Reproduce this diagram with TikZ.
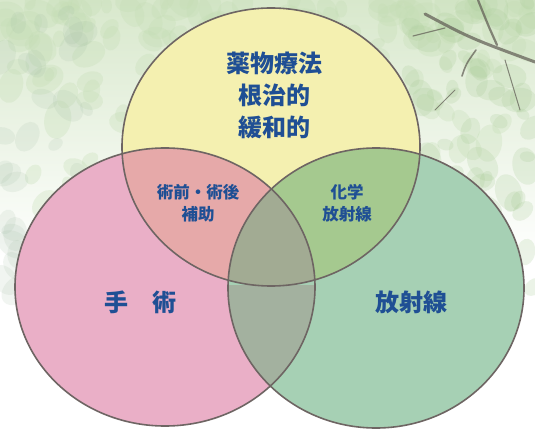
\documentclass[tikz,border=0pt]{standalone}
\usepackage{fontspec}
\newfontfamily\jp{Noto Sans CJK JP}
\definecolor{cyel}{HTML}{F4F0B0}
\definecolor{cpink}{HTML}{EAAFC7}
\definecolor{cgreen}{HTML}{A6D0B4}
\definecolor{cpy}{HTML}{E6A9A9}
\definecolor{cyg}{HTML}{A5C98F}
\definecolor{cpg}{HTML}{A3B19F}
\definecolor{call}{HTML}{A2AB93}
\definecolor{edge}{HTML}{6E6563}
\definecolor{txt}{HTML}{1F4F94}
\definecolor{bgtop}{HTML}{D8E8CC}
\definecolor{leafA}{HTML}{A8CB96}
\definecolor{leafB}{HTML}{C4DDB4}
\definecolor{leafC}{HTML}{9DB9A0}
\definecolor{bark}{HTML}{5E5A52}
\tikzset{
  bigtxt/.style={text=txt, font=\jp\bfseries\fontsize{24}{32}\selectfont, align=center, inner sep=0pt},
  smalltxt/.style={text=txt, font=\jp\bfseries\fontsize{16.5}{22}\selectfont, align=center, inner sep=0pt},
  rim/.style={draw=edge, line width=1.6pt},
  branch/.style={draw=bark, opacity=0.7, line cap=round}
}
\begin{document}
\begin{tikzpicture}[x=1pt,y=-1pt]
\useasboundingbox (0,0) rectangle (535,430);
\fill[white] (0,0) rectangle (535,430);
\shade[top color=bgtop, bottom color=white] (0,0) rectangle (535,260);
% leafy background
\pgfmathsetseed{7}
\foreach \i in {1,...,160}{
  \pgfmathsetmacro{\lx}{rnd*535}
  \pgfmathsetmacro{\ly}{rnd*rnd*240}
  \pgfmathsetmacro{\lr}{7+rnd*13}
  \pgfmathsetmacro{\la}{rnd*180}
  \fill[leafB, opacity=0.3, rotate around={\la:(\lx,\ly)}] (\lx,\ly) ellipse [x radius=\lr, y radius=0.7*\lr];
}
\foreach \i in {1,...,70}{
  \pgfmathsetmacro{\lx}{400+rnd*135}
  \pgfmathsetmacro{\ly}{rnd*300}
  \pgfmathsetmacro{\lr}{7+rnd*12}
  \pgfmathsetmacro{\la}{rnd*180}
  \fill[leafA, opacity=0.22, rotate around={\la:(\lx,\ly)}] (\lx,\ly) ellipse [x radius=\lr, y radius=0.7*\lr];
}
\foreach \i in {1,...,40}{
  \pgfmathsetmacro{\lx}{rnd*110}
  \pgfmathsetmacro{\ly}{rnd*300}
  \pgfmathsetmacro{\lr}{7+rnd*12}
  \pgfmathsetmacro{\la}{rnd*180}
  \fill[leafC, opacity=0.14, rotate around={\la:(\lx,\ly)}] (\lx,\ly) ellipse [x radius=\lr, y radius=0.7*\lr];
}
\draw[branch, line width=3pt] (425,14) .. controls (470,38) .. (535,62);
\draw[branch, line width=2.2pt] (478,0) .. controls (488,25) .. (497,45);
\draw[branch, line width=1.6pt] (476,50) .. controls (466,64) .. (462,76);
\draw[branch, line width=1.2pt] (445,28) -- (413,36);
\draw[branch, line width=1pt] (505,60) -- (520,110);
\draw[branch, line width=1pt] (455,90) -- (435,110);
% circle fills
\coordinate (cy) at (271,147);
\coordinate (cp) at (165,287);
\coordinate (cg) at (376,288);
\fill[cyel] (cy) ellipse [x radius=149, y radius=139];
\fill[cpink] (cp) ellipse [x radius=150, y radius=139];
\fill[cgreen] (cg) ellipse [x radius=148, y radius=140];
\begin{scope}
  \clip (cy) ellipse [x radius=149, y radius=139];
  \fill[cpy] (cp) ellipse [x radius=150, y radius=139];
  \fill[cyg] (cg) ellipse [x radius=148, y radius=140];
  \clip (cp) ellipse [x radius=150, y radius=139];
  \fill[call] (cg) ellipse [x radius=148, y radius=140];
\end{scope}
\begin{scope}
  \clip (cp) ellipse [x radius=150, y radius=139];
  \clip (cg) ellipse [x radius=148, y radius=140];
  \fill[cpg] (0,285) rectangle (535,430);
  \fill[cpg] (cy) ellipse [x radius=149, y radius=139];
  \fill[call] (cy) ellipse [x radius=149, y radius=139];
\end{scope}
% outlines
\draw[rim] (cy) ellipse [x radius=149, y radius=139];
\draw[rim] (cp) ellipse [x radius=150, y radius=139];
\draw[rim] (cg) ellipse [x radius=148, y radius=140];
% labels
\node[bigtxt] (drug) at (274,95) {薬物療法\\根治的\\緩和的};
\node[bigtxt] (surg) at (140,302) {手\hspace{1em}術};
\node[bigtxt] (rad) at (411,302) {放射線};
\node[smalltxt] (adj) at (198,203) {術前・術後\\補助};
\node[smalltxt] (chemo) at (347,203) {化学\\放射線};
\end{tikzpicture}
\end{document}
